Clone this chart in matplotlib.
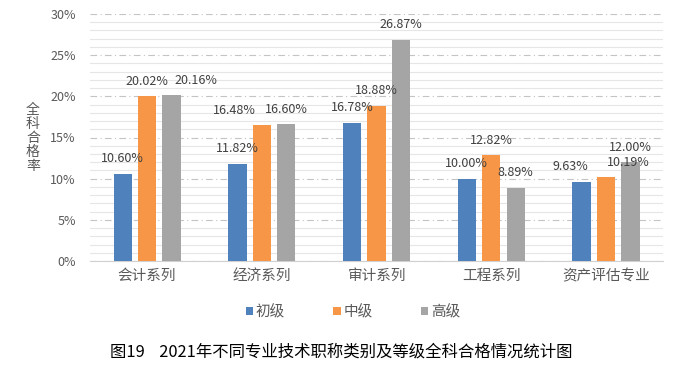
import matplotlib
matplotlib.use('Agg')
import matplotlib.pyplot as plt
import numpy as np
from matplotlib.ticker import MultipleLocator, FuncFormatter

plt.rcParams['font.family'] = ['Noto Sans CJK SC', 'DejaVu Sans']

categories = ['会计系列', '经济系列', '审计系列', '工程系列', '资产评估专业']
levels = ['初级', '中级', '高级']
chuji = [10.60, 11.82, 16.78, 10.00, 9.63]
zhongji = [20.02, 16.48, 18.88, 12.82, 10.19]
gaoji = [20.16, 16.60, 26.87, 8.89, 12.00]
colors = ['#4F81BD', '#F79646', '#A5A5A5']
title = '图19    2021年不同专业技术职称类别及等级全科合格情况统计图'

# horizontal nudges (pixels) for labels that were moved to avoid overlaps
label_dx = [
    [0, 0, 0, 0, -11],
    [0, -27, 0, 0, 22],
    [24, 0, 0, 0, 0],
]

fig = plt.figure(figsize=(6.83, 3.68), dpi=100)
ax = fig.add_axes([89.8 / 683, 1 - 261 / 368, 573.5 / 683, 247 / 368])

x = np.arange(len(categories))
width = 0.16
step = 0.213
series = [chuji, zhongji, gaoji]
for i, vals in enumerate(series):
    pos = x + (i - 1) * step
    ax.bar(pos, vals, width, color=colors[i], label=levels[i], zorder=3)
    for j, v in enumerate(vals):
        ax.annotate('%.2f%%' % v, (pos[j], v), xytext=(label_dx[i][j], 15),
                    textcoords='offset pixels', ha='center', va='center',
                    fontsize=9, color='#404040', zorder=4)

ax.set_xlim(-0.5, len(categories) - 0.5)
ax.set_ylim(0, 30)
ax.yaxis.set_major_locator(MultipleLocator(5))
ax.yaxis.set_minor_locator(MultipleLocator(1))
ax.yaxis.set_major_formatter(FuncFormatter(lambda v, p: '%d%%' % v))
ax.grid(axis='y', which='minor', color='#E6E6E6', linewidth=0.8, zorder=0)
ax.grid(axis='y', which='major', color='#C4C4C4', linewidth=0.8,
        linestyle=(0, (6, 3, 1, 3)), zorder=1)
for s in ['top', 'right', 'left']:
    ax.spines[s].set_visible(False)
ax.spines['bottom'].set_color('#D0D0D0')
ax.tick_params(axis='y', which='both', length=0, pad=10, labelsize=9,
               labelcolor='#595959')
ax.tick_params(axis='x', length=0, pad=6, labelsize=10.5, labelcolor='#595959')
ax.set_xticks(x)
ax.set_xticklabels(categories)

fig.text(33 / 683, 1 - 138 / 368, '全\n科\n合\n格\n率', ha='center', va='center',
         fontsize=10, color='#595959', linespacing=1.0)

ax.legend(loc='center', bbox_to_anchor=(0.459, (261 - 312) / 247), ncol=3,
          frameon=False, fontsize=10.5, handlelength=0.5, handleheight=0.5,
          handletextpad=0.2, columnspacing=3.3, labelcolor='#595959')

fig.text(341 / 683, 1 - 352 / 368, title, ha='center',
         va='center', fontsize=11.8, color='black')

fig.savefig('out.png', dpi=100)
